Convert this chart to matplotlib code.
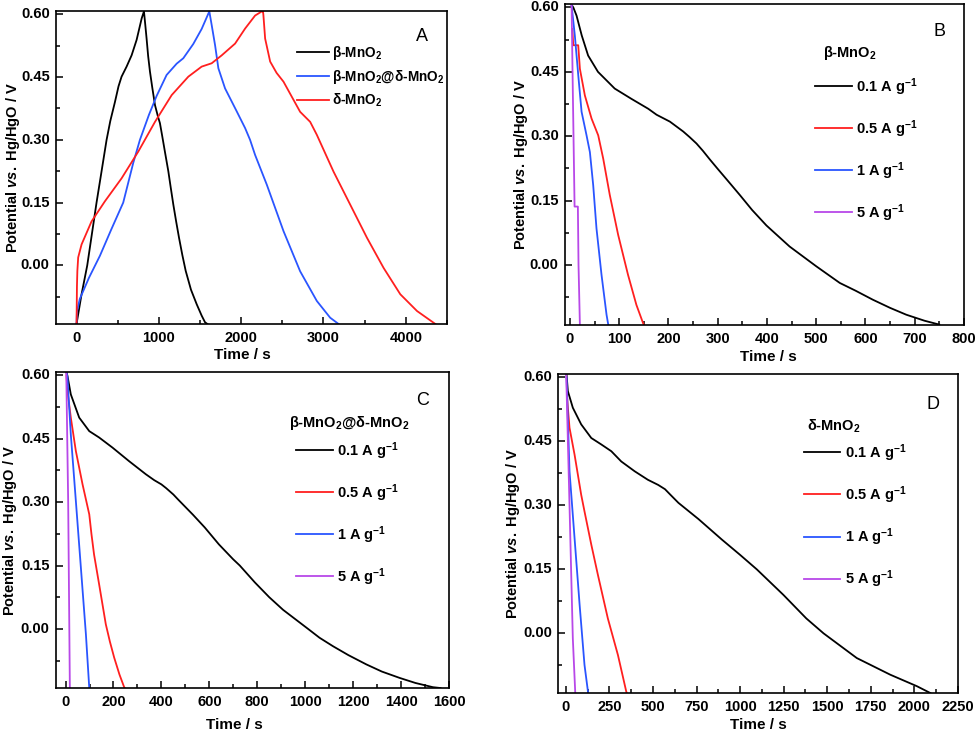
import matplotlib
matplotlib.use("Agg")
import matplotlib.pyplot as plt
from matplotlib.ticker import MultipleLocator
from matplotlib.transforms import offset_copy

# Fonts: bold Arial-like everywhere, maths in the same face
plt.rcParams['font.family'] = ['Liberation Sans', 'DejaVu Sans']
plt.rcParams['font.weight'] = 'bold'
plt.rcParams['axes.labelweight'] = 'bold'
plt.rcParams['mathtext.fontset'] = 'custom'
plt.rcParams['mathtext.rm'] = 'Liberation Sans:bold'
plt.rcParams['mathtext.bf'] = 'Liberation Sans:bold'
plt.rcParams['mathtext.it'] = 'Liberation Sans:bold:italic'
plt.rcParams['mathtext.default'] = 'bf'

# Panel A: charge / discharge of the three samples
a_beta_t = [0, 60, 130, 243, 300, 365, 410, 466, 510, 547, 608, 669, 730, 791, 819,
            835, 851, 870, 892, 920, 953, 990, 1013, 1040, 1075, 1115, 1145, 1176, 1210, 1245,
            1285, 1326, 1390, 1460, 1520, 1561, 1590]
a_beta_v = [-0.14, -0.07, 0.0, 0.15, 0.22, 0.30, 0.345, 0.39, 0.428, 0.451, 0.475, 0.502, 0.539,
            0.590, 0.607,
            0.575, 0.542, 0.50, 0.463, 0.425, 0.383, 0.355, 0.34, 0.31, 0.27, 0.225, 0.185, 0.145,
            0.105, 0.066, 0.025, -0.013, -0.058, -0.093, -0.12, -0.136, -0.14]
a_core_t = [0, 5, 40, 150, 284, 420, 567, 689, 770, 880, 973, 1094, 1216, 1297, 1418, 1520, 1613,
            1642, 1683, 1723, 1804, 1946, 2048, 2108, 2169, 2311, 2514, 2716, 2919, 3081, 3183]
a_core_v = [-0.14, -0.11, -0.08, -0.03, 0.023, 0.085, 0.15, 0.245, 0.30, 0.36, 0.405, 0.455, 0.482,
            0.495, 0.529, 0.565, 0.607,
            0.574, 0.526, 0.471, 0.423, 0.368, 0.328, 0.30, 0.264, 0.193, 0.082, -0.014, -0.085,
            -0.125, -0.14]
a_delta_t = [0, 5, 10, 20, 61, 182, 344, 547, 750, 953, 1156, 1358, 1520, 1642, 1764, 1926, 2048,
             2169, 2251, 2265, 2270, 2291, 2352, 2430, 2514, 2716, 2838, 2919, 3122, 3325, 3528,
             3730, 3933, 4136, 4359]
a_delta_v = [-0.14, -0.05, -0.013, 0.019, 0.050, 0.105, 0.153, 0.208, 0.272, 0.343, 0.407, 0.451,
             0.475, 0.483, 0.502, 0.530, 0.566, 0.597, 0.607, 0.607, 0.598, 0.542, 0.487, 0.46,
             0.439, 0.367, 0.343, 0.312, 0.224, 0.145, 0.066, -0.006, -0.069, -0.109, -0.14]
a_labels = [r'β-MnO$_2$', r'β-MnO$_2$@δ-MnO$_2$', r'δ-MnO$_2$']

rate_labels = [r'0.1 A g$^{-1}$', r'0.5 A g$^{-1}$', r'1 A g$^{-1}$', r'5 A g$^{-1}$']

# Panel B: β-MnO2 discharge at different rates
b_01_t = [3, 7, 13.5, 24, 37, 57, 91, 125, 159, 176, 203, 230, 243, 257, 270, 284, 300, 320, 345,
          370, 399, 446, 500, 548, 580, 615, 650, 683, 720, 750]
b_01_v = [0.607, 0.60, 0.581, 0.535, 0.488, 0.45, 0.411, 0.387, 0.364, 0.350, 0.334, 0.311, 0.298,
          0.283, 0.266, 0.246, 0.224, 0.197, 0.163, 0.128, 0.092, 0.043, -0.003, -0.042, -0.06,
          -0.081, -0.10, -0.116, -0.13, -0.139]
b_05_t = [5, 6.8, 16.9, 20.3, 30.4, 44, 57.5, 67.6, 81, 98, 118, 135, 149, 151]
b_05_v = [0.55, 0.512, 0.512, 0.457, 0.395, 0.341, 0.302, 0.248, 0.163, 0.07, -0.023, -0.093,
          -0.137, -0.14]
b_1_t = [3.4, 10, 17, 23.7, 33.8, 40.6, 47.3, 54, 64.2, 74.4, 78]
b_1_v = [0.605, 0.535, 0.442, 0.357, 0.302, 0.263, 0.186, 0.085, -0.023, -0.116, -0.14]
b_5_t = [3.4, 6, 8, 9.5, 16.2, 17.5, 20.3]
b_5_v = [0.607, 0.40, 0.25, 0.136, 0.136, 0.0, -0.14]

# Panel C: β-MnO2@δ-MnO2 discharge
c_01_t = [4, 8, 22, 57, 99, 140, 196, 265, 335, 370, 400, 420, 450, 470, 532, 581, 640,
          699, 727, 790, 850, 908, 1012, 1060, 1116, 1180, 1255, 1320, 1394, 1460, 1533, 1565]
c_01_v = [0.607, 0.599, 0.555, 0.50, 0.468, 0.453, 0.429, 0.397, 0.366, 0.352, 0.342, 0.333,
          0.318, 0.306, 0.27, 0.240, 0.20, 0.165, 0.15, 0.11, 0.075, 0.045, 0.0, -0.021, -0.041,
          -0.062, -0.084, -0.101, -0.116, -0.128, -0.138, -0.14]
c_05_t = [4, 8, 22, 43, 71, 99, 108, 119, 140, 168, 185, 203, 225, 244, 247]
c_05_v = [0.60, 0.563, 0.50, 0.421, 0.342, 0.271, 0.225, 0.176, 0.106, 0.011, -0.03, -0.068,
          -0.108, -0.137, -0.14]
c_1_t = [4, 8, 22, 43, 64, 85, 99]
c_1_v = [0.607, 0.595, 0.46, 0.303, 0.145, -0.013, -0.14]
c_5_t = [3, 11, 18]
c_5_v = [0.607, 0.30, -0.14]

# Panel D: δ-MnO2 discharge
d_01_t = [4, 11.5, 40, 88, 146, 203, 261, 318, 395, 471, 530, 569, 600, 646, 761, 895, 1000,
          1096, 1249, 1380, 1479, 1670, 1862, 2015, 2092]
d_01_v = [0.607, 0.568, 0.529, 0.49, 0.458, 0.443, 0.427, 0.403, 0.38, 0.36, 0.348, 0.338, 0.325,
          0.306, 0.268, 0.22, 0.184, 0.15, 0.09, 0.035, 0.0, -0.058, -0.097, -0.124, -0.14]
d_05_t = [8, 11.5, 21, 50, 88, 107, 146, 184, 241, 299, 347, 350]
d_05_v = [0.55, 0.529, 0.482, 0.419, 0.325, 0.286, 0.208, 0.137, 0.035, -0.051, -0.137, -0.14]
d_1_t = [4, 21, 50, 79, 107, 128]
d_1_v = [0.60, 0.38, 0.223, 0.067, -0.074, -0.14]
d_5_t = [2, 21, 40, 54]
d_5_v = [0.607, 0.30, -0.012, -0.14]

colors = ['black', '#ff1f1f', '#2a55ff', '#b848e8']
ylabel = r'Potential $\mathit{vs.}$ Hg/HgO / V'


def style_axes(ax, xmin, xmax, major, minor, xlab_pos, ylab_x):
    ax.set_xlim(xmin, xmax)
    ax.set_ylim(-0.14, 0.608)
    ax.xaxis.set_major_locator(MultipleLocator(major))
    ax.xaxis.set_minor_locator(MultipleLocator(minor))
    ax.yaxis.set_major_locator(MultipleLocator(0.15))
    ax.yaxis.set_minor_locator(MultipleLocator(0.075))
    ax.tick_params(which='both', direction='in', top=False, right=False, width=1.1,
                   labelbottom=False, labelleft=False)
    ax.tick_params(which='major', length=5)
    ax.tick_params(which='minor', length=3)
    for s in ax.spines.values():
        s.set_linewidth(1.2)

    # bold tick labels, written at the locator's tick values
    tx = offset_copy(ax.get_xaxis_transform(), fig=ax.figure, y=-5, units='points')
    for v in ax.get_xticks():
        if xmin <= v <= xmax:
            ax.text(v, 0, '%d' % round(v), transform=tx, ha='center', va='top',
                    fontsize=10.5, fontweight='bold')
    ty = offset_copy(ax.get_yaxis_transform(), fig=ax.figure, x=-4.5, units='points')
    for v in ax.get_yticks():
        if -0.141 <= v <= 0.609:
            ax.text(0, v, '%.2f' % (round(v, 2) + 0.0), transform=ty, ha='right', va='center',
                    fontsize=10.5, fontweight='bold')

    ax.set_xlabel('Time / s', fontsize=11)
    ax.xaxis.set_label_coords(*xlab_pos)
    ax.set_ylabel(ylabel, fontsize=10.5)
    ax.yaxis.set_label_coords(ylab_x, 0.5)


fig = plt.figure(figsize=(9.8, 7.35), dpi=100)
axA = fig.add_axes([0.0571, 0.5592, 0.399, 0.4259])
axB = fig.add_axes([0.5765, 0.5578, 0.4071, 0.4367])
axC = fig.add_axes([0.0571, 0.0639, 0.401, 0.430])
axD = fig.add_axes([0.5694, 0.0571, 0.408, 0.434])

# A
for t, v, c, lab in zip([a_beta_t, a_core_t, a_delta_t], [a_beta_v, a_core_v, a_delta_v],
                        [colors[0], colors[2], colors[1]], a_labels):
    axA.plot(t, v, color=c, lw=1.3, label=lab)
style_axes(axA, -250, 4500, 1000, 500, (0.476, -0.077), -0.087)
axA.legend(loc='upper left', bbox_to_anchor=(0.616, 0.895), frameon=False, borderpad=0,
           borderaxespad=0, handlelength=2.4, handletextpad=0.2, labelspacing=0.45, fontsize=9.8)
axA.text(0.936, 0.917, 'A', transform=axA.transAxes, fontsize=13, fontweight='normal',
         ha='center', va='center')

# B, C, D
panels = [
    (axB, [b_01_t, b_05_t, b_1_t, b_5_t], [b_01_v, b_05_v, b_1_v, b_5_v],
     (-10, 800, 100, 50, (0.511, -0.078), -0.0875),
     'B', r'β-MnO$_2$', (0.647, 0.847), (0.627, 0.776), (0.94, 0.913)),
    (axC, [c_01_t, c_05_t, c_1_t, c_5_t], [c_01_v, c_05_v, c_1_v, c_5_v],
     (-40, 1600, 200, 100, (0.455, -0.095), -0.093),
     'C', r'β-MnO$_2$@δ-MnO$_2$', (0.593, 0.839), (0.611, 0.785), (0.934, 0.911)),
    (axD, [d_01_t, d_05_t, d_1_t, d_5_t], [d_01_v, d_05_v, d_1_v, d_5_v],
     (-45, 2250, 250, 125, (0.50, -0.078), -0.09),
     'D', r'δ-MnO$_2$', (0.6225, 0.837), (0.615, 0.787), (0.9375, 0.903)),
]
for ax, ts, vs, lim, letter, title, tpos, lpos, letpos in panels:
    for t, v, c, lab in zip(ts, vs, colors, rate_labels):
        ax.plot(t, v, color=c, lw=1.3, label=lab)
    style_axes(ax, *lim)
    ax.legend(loc='upper left', bbox_to_anchor=lpos, frameon=False, borderpad=0,
              borderaxespad=0, handlelength=2.5, handletextpad=0.3, labelspacing=1.4,
              fontsize=10.5)
    ax.text(tpos[0], tpos[1], title, transform=ax.transAxes, fontsize=10.5, ha='left', va='center')
    ax.text(letpos[0], letpos[1], letter, transform=ax.transAxes, fontsize=13,
            fontweight='normal', ha='center', va='center')

fig.savefig('out.png', dpi=100)
